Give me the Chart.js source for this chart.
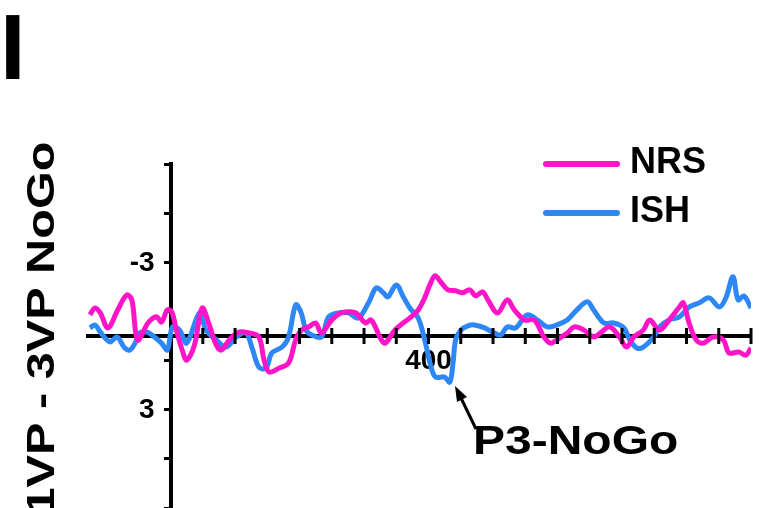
<!DOCTYPE html>
<html>
<head>
<meta charset="utf-8">
<script src="https://cdn.jsdelivr.net/npm/chart.js@4.4.1/dist/chart.umd.min.js"></script>
<style>
  body { margin: 0; background: #fff; }
  #wrap { width: 759px; height: 508px; }
</style>
</head>
<body>
<div id="wrap"><canvas id="erp" width="759" height="508"></canvas></div>
<script>
// times in ms, amplitudes in microvolts (negative plotted upward)
const nrsTimes = [-125, -117, -109, -97, -82, -68, -60, -51, -35, -22, -14, -5, 2, 9, 18, 25, 37, 49, 60, 71, 79, 91, 106, 122, 137, 145, 153, 168, 183, 194, 203, 214, 225, 234, 250, 265, 287, 302, 311, 327, 333, 348, 373, 384, 394, 402, 410, 419, 430, 442, 453, 464, 473, 484, 492, 507, 522, 533, 549, 564, 579, 589, 599, 615, 626, 641, 656, 666, 681, 696, 707, 718, 733, 743, 758, 773, 789, 795, 804, 815, 826, 841, 857, 866, 881, 892, 900];
const nrsValues = [-0.86, -1.14, -0.94, -0.33, -1.06, -1.67, -1.47, 0.16, -0.53, -0.78, -0.57, -1.06, -0.98, -0.24, 0.57, 0.98, 0.37, -1.14, -0.45, 0.37, 0.57, 0.16, -0.16, -0.12, 0.04, 0.98, 1.47, 1.31, 1.10, 0.16, -0.24, -0.37, -0.53, -0.12, -0.65, -0.94, -0.94, -0.53, -0.65, 0.16, 0.29, -0.24, -0.78, -1.06, -1.55, -2.08, -2.45, -2.20, -1.88, -1.84, -1.76, -1.88, -1.63, -1.80, -1.47, -0.94, -1.47, -1.06, -0.65, -0.65, 0.04, 0.29, 0.16, -0.12, -0.37, -0.24, 0.04, -0.12, -0.37, 0.04, 0.45, 0.04, -0.24, -0.65, -0.24, -0.65, -1.18, -1.35, -0.53, 0.16, 0.29, 0.04, 0.16, 0.69, 0.65, 0.78, 0.49];

const ishTimes = [-125, -117, -109, -94, -83, -71, -63, -55, -48, -37, -29, -14, -5, 3, 14, 25, 45, 55, 71, 86, 102, 117, 126, 137, 148, 157, 173, 183, 194, 202, 210, 219, 234, 245, 260, 276, 291, 307, 319, 330, 337, 350, 361, 371, 384, 394, 404, 411, 425, 433, 438, 442, 450, 461, 471, 487, 502, 512, 522, 535, 553, 569, 584, 599, 615, 630, 646, 656, 672, 687, 703, 712, 723, 733, 749, 758, 773, 789, 804, 820, 835, 851, 861, 872, 880, 889, 900];
const ishValues = [-0.33, -0.45, -0.16, 0.24, 0.04, 0.49, 0.57, 0.29, -0.12, -0.16, -0.04, 0.29, 0.57, -0.37, -0.24, 0.29, -0.94, -0.24, 0.16, 0.45, 0.04, -0.12, 0.45, 1.27, 1.31, 0.69, 0.45, 0.04, -1.27, -0.98, -0.24, -0.04, 0.04, -0.78, -0.94, -0.94, -0.73, -1.35, -1.96, -1.76, -1.59, -2.08, -1.59, -1.14, -0.73, 0.16, 1.27, 1.67, 1.67, 1.88, 1.10, 0.16, -0.24, -0.41, -0.45, -0.33, -0.12, -0.04, -0.37, -0.33, -0.86, -0.65, -0.37, -0.45, -0.65, -1.06, -1.39, -1.06, -0.53, -0.53, -0.33, 0.16, 0.49, 0.45, 0.04, -0.37, -0.65, -0.78, -1.18, -1.35, -1.55, -1.18, -1.55, -2.41, -1.47, -1.63, -1.14];

const seriesNames = ['NRS', 'ISH'];
const xTickValues = [50, 100, 150, 200, 250, 300, 350, 400, 450, 500, 550, 600, 650, 700, 750, 800, 850, 900];
const xTickLabels = [400];
const yTickLabels = [-3, 3];

const FONT = "'Liberation Sans', Arial, sans-serif";
const PINK = '#ff14c8';
const BLUE = '#2d87f6';

const toPoints = (ts, vs) => ts.map((t, i) => ({ x: t, y: vs[i] }));

// extra drawing: crossing tick marks, y labels, legend, axis title, panel letter, annotation
const decor = {
    id: 'decor',
    afterDraw(chart) {
        const ctx = chart.ctx;
        const xs = chart.scales.x, ys = chart.scales.y;
        const y0 = ys.getPixelForValue(0);
        const x0 = xs.getPixelForValue(0);
        ctx.save();
        ctx.strokeStyle = '#000';
        ctx.lineWidth = 3;
        xs.ticks.forEach(t => {
            const px = xs.getPixelForValue(t.value);
            ctx.beginPath();
            ctx.moveTo(px, y0 - 8);
            ctx.lineTo(px, y0 + 8);
            ctx.stroke();
        });

        // y tick labels
        ctx.fillStyle = '#000';
        ctx.font = 'bold 28px ' + FONT;
        ctx.textAlign = 'right';
        ctx.textBaseline = 'middle';
        yTickLabels.forEach(v => ctx.fillText(String(v), x0 - 16, ys.getPixelForValue(v) + 1));

        // legend
        chart.data.datasets.forEach((ds, i) => {
            const ly = 164 + i * 49;
            ctx.strokeStyle = ds.borderColor;
            ctx.lineWidth = 6;
            ctx.lineCap = 'round';
            ctx.beginPath();
            ctx.moveTo(546, ly);
            ctx.lineTo(617, ly);
            ctx.stroke();
            ctx.fillStyle = '#000';
            ctx.font = 'bold 36px ' + FONT;
            ctx.textAlign = 'left';
            ctx.textBaseline = 'alphabetic';
            ctx.fillText(ds.label, 630, 173 + i * 49);
        });

        // y title
        ctx.save();
        ctx.translate(54, 328);
        ctx.rotate(-Math.PI / 2);
        ctx.scale(1.28, 1);
        ctx.font = 'bold 38px ' + FONT;
        ctx.textAlign = 'center';
        ctx.textBaseline = 'alphabetic';
        ctx.fillStyle = '#000';
        ctx.fillText('1VP - 3VP NoGo', 0, 0);
        ctx.restore();

        // panel letter
        ctx.font = 'bold 92px ' + FONT;
        ctx.textAlign = 'left';
        ctx.textBaseline = 'alphabetic';
        ctx.fillStyle = '#000';
        ctx.fillText('I', 0, 79);

        // P3-NoGo arrow
        ctx.strokeStyle = '#000';
        ctx.lineWidth = 3;
        ctx.lineCap = 'butt';
        ctx.beginPath();
        ctx.moveTo(476, 429);
        ctx.lineTo(461, 398);
        ctx.stroke();
        ctx.beginPath();
        ctx.moveTo(455, 386);
        ctx.lineTo(467, 397);
        ctx.lineTo(457, 402);
        ctx.closePath();
        ctx.fill();
        ctx.save();
        ctx.translate(473, 454);
        ctx.scale(1.2, 1);
        ctx.font = 'bold 40px ' + FONT;
        ctx.fillText('P3-NoGo', 0, 0);
        ctx.restore();
        ctx.restore();
    }
};

new Chart(document.getElementById('erp'), {
    type: 'line',
    data: {
        datasets: [
            { label: seriesNames[0], data: toPoints(nrsTimes, nrsValues), borderColor: PINK },
            { label: seriesNames[1], data: toPoints(ishTimes, ishValues), borderColor: BLUE }
        ]
    },
    options: {
        responsive: false,
        animation: false,
        layout: { padding: { left: 88, top: 164, right: 4, bottom: -26 } },
        elements: {
            line: { borderWidth: 5, tension: 0.35, fill: false },
            point: { radius: 0 }
        },
        scales: {
            x: {
                type: 'linear',
                min: -128,
                max: 900,
                position: { y: 0 },
                z: 1,
                afterBuildTicks: axis => { axis.ticks = xTickValues.map(v => ({ value: v })); },
                grid: { display: false, drawTicks: false },
                border: { display: true, color: '#000', width: 4 },
                ticks: {
                    padding: 8,
                    autoSkip: false,
                    maxRotation: 0,
                    color: '#000',
                    font: { family: FONT, size: 28, weight: 'bold' },
                    callback: v => xTickLabels.includes(v) ? String(v) : ''
                }
            },
            y: {
                type: 'linear',
                min: -7,
                max: 7,
                reverse: true,
                position: { x: 0 },
                z: 1,
                grid: { drawOnChartArea: false, drawTicks: true, tickLength: 5, lineWidth: 3, color: '#000' },
                border: { display: true, color: '#000', width: 4 },
                ticks: { stepSize: 2, display: false }
            }
        },
        plugins: {
            legend: { display: false },
            tooltip: { enabled: false }
        }
    },
    plugins: [decor]
});
</script>
</body>
</html>
